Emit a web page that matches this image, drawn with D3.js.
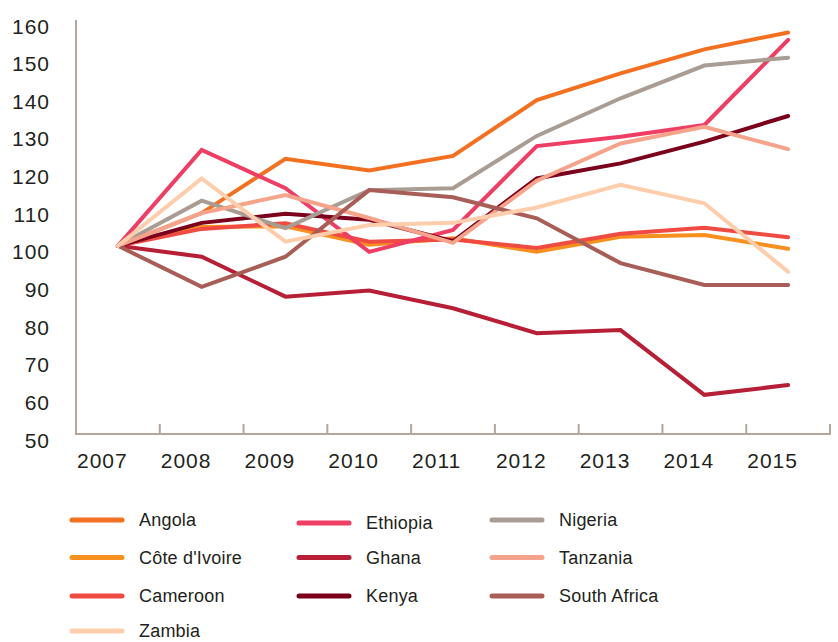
<!DOCTYPE html>
<meta charset="utf-8">
<style>
  body { margin: 0; background: #fff; }
  text { font-family: "Liberation Sans", Arial, Helvetica, sans-serif; fill: #231f20; }
</style>
<script src="https://d3js.org/d3.v7.min.js"></script>
<div id="my_dataviz"></div>
<script>

// data (index, 2007 = 100)
var years = ["2007", "2008", "2009", "2010", "2011", "2012", "2013", "2014", "2015"];
var yTicks = [50, 60, 70, 80, 90, 100, 110, 120, 130, 140, 150, 160];

var angola      = [100, 108.7, 123.1, 120.0, 123.9, 138.7, 145.8, 152.2, 156.7];
var coteIvoire  = [100, 105.0, 105.2, 100.3, 102.0, 98.4, 102.4, 102.9, 99.2];
var cameroon    = [100, 104.5, 106.0, 101.1, 101.7, 99.4, 103.2, 104.8, 102.3];
var ethiopia    = [100, 125.5, 115.3, 98.4, 104.2, 126.5, 129.0, 132.1, 154.7];
var ghana       = [100, 97.1, 86.5, 88.1, 83.4, 76.8, 77.6, 60.4, 63.0];
var kenya       = [100, 106.1, 108.5, 106.9, 101.2, 117.9, 121.9, 127.7, 134.5];
var nigeria     = [100, 112.0, 104.7, 114.8, 115.3, 129.2, 139.2, 147.9, 150.0];
var tanzania    = [100, 108.7, 113.5, 107.4, 100.8, 117.3, 127.2, 131.6, 125.7];
var southAfrica = [100, 89.1, 97.1, 114.8, 112.9, 107.3, 95.4, 89.6, 89.6];
var zambia      = [100, 117.9, 101.1, 105.5, 106.1, 110.2, 116.2, 111.3, 93.1];

var series = [
  { name: "Angola",        values: angola,      color: "#f37021", col: 0, row: 0 },
  { name: "Côte d'Ivoire", values: coteIvoire,  color: "#f7901e", col: 0, row: 1 },
  { name: "Cameroon",      values: cameroon,    color: "#ef4b43", col: 0, row: 2 },
  { name: "Ethiopia",      values: ethiopia,    color: "#ee3e64", col: 1, row: 0 },
  { name: "Ghana",         values: ghana,       color: "#b71f36", col: 1, row: 1 },
  { name: "Kenya",         values: kenya,       color: "#7a001c", col: 1, row: 2 },
  { name: "Nigeria",       values: nigeria,     color: "#a99c92", col: 2, row: 0 },
  { name: "Tanzania",      values: tanzania,    color: "#f6a38c", col: 2, row: 1 },
  { name: "South Africa",  values: southAfrica, color: "#a85d57", col: 2, row: 2 },
  { name: "Zambia",        values: zambia,      color: "#fecdab", col: 0, row: 3 }
];

var width = 838,
    height = 642;

var svg = d3.select("#my_dataviz")
  .append("svg")
    .attr("width", width)
    .attr("height", height);

var x = d3.scaleBand()
  .domain(years)
  .range([76, 830])
  .padding(0);

var y = d3.scaleLinear()
  .domain([50, 160])
  .range([434, 20]);

var axisColor = "#b2a69d";

// y axis: line only, labels sit a little below their value
svg.append("line")
  .attr("x1", 76).attr("x2", 76)
  .attr("y1", y(160)).attr("y2", y(50))
  .attr("stroke", axisColor)
  .attr("stroke-width", 2);

svg.selectAll(".ylab")
  .data(yTicks)
  .enter()
  .append("text")
    .attr("class", "ylab")
    .attr("x", 50)
    .attr("y", function(d) { return y(d) + 6; })
    .attr("dy", "0.36em")
    .attr("text-anchor", "end")
    .style("font-size", "21px")
    .style("letter-spacing", "1px")
    .text(function(d) { return d; });

// x axis
svg.append("line")
  .attr("x1", 75).attr("x2", 831)
  .attr("y1", y(50)).attr("y2", y(50))
  .attr("stroke", axisColor)
  .attr("stroke-width", 2);

var tickPos = years.slice(1).map(function(d) { return x(d); }).concat([x.range()[1]]);
svg.selectAll(".xtick")
  .data(tickPos)
  .enter()
  .append("line")
    .attr("class", "xtick")
    .attr("x1", function(d) { return d; })
    .attr("x2", function(d) { return d; })
    .attr("y1", y(50))
    .attr("y2", y(50) - 10)
    .attr("stroke", axisColor)
    .attr("stroke-width", 2);

svg.selectAll(".xlab")
  .data(years)
  .enter()
  .append("text")
    .attr("class", "xlab")
    .attr("x", function(d) { return x(d) + 1; })
    .attr("y", 468)
    .attr("text-anchor", "start")
    .style("font-size", "21px")
    .style("letter-spacing", "1px")
    .text(function(d) { return d; });

// lines
var line = d3.line()
  .x(function(d, i) { return x(years[i]) + x.bandwidth() / 2; })
  .y(function(d) { return y(d); });

svg.selectAll(".series")
  .data(series)
  .enter()
  .append("path")
    .attr("class", "series")
    .attr("d", function(d) { return line(d.values); })
    .attr("fill", "none")
    .attr("stroke", function(d) { return d.color; })
    .attr("stroke-width", 4)
    .attr("stroke-linecap", "round")
    .attr("stroke-linejoin", "miter");

// legend
var colX = [70, 297, 490];
var rowY = [520, 557.5, 596, 631];

var leg = svg.selectAll(".leg")
  .data(series)
  .enter()
  .append("g")
    .attr("class", "leg")
    .attr("transform", function(d) {
      var dy = d.name === "Ethiopia" ? 3 : 0;
      return "translate(" + colX[d.col] + "," + (rowY[d.row] + dy) + ")";
    });

leg.append("line")
  .attr("x1", 2).attr("x2", 52)
  .attr("y1", 0).attr("y2", 0)
  .attr("stroke", function(d) { return d.color; })
  .attr("stroke-width", 5)
  .attr("stroke-linecap", "round");

leg.append("text")
  .attr("x", 69)
  .attr("y", 0)
  .attr("dy", "0.35em")
  .style("font-size", "18px")
  .style("letter-spacing", "0.2px")
  .text(function(d) { return d.name; });

</script>
